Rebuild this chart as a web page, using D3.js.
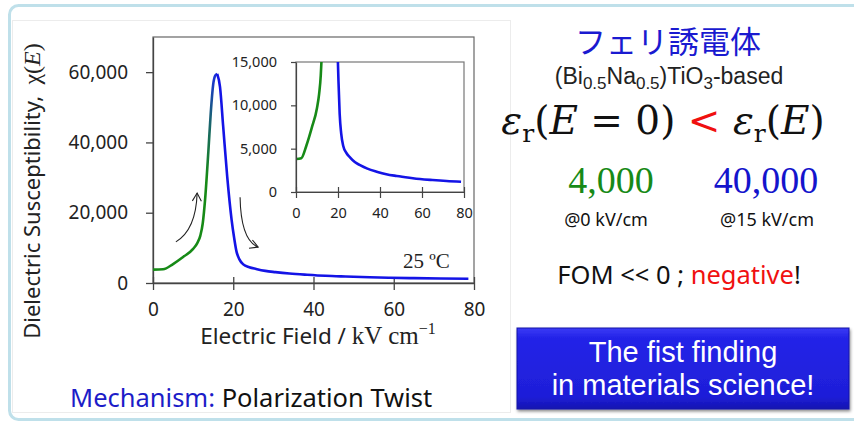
<!DOCTYPE html>
<html>
<head>
<meta charset="utf-8">
<script src="https://cdn.jsdelivr.net/npm/d3@7"></script>
<style>
  body { margin: 0; background: #fff; }
  svg { display: block; }
</style>
</head>
<body>
<script>
// rising branch, 0 kV/cm up to the peak (green)
const riseE   = [0, 2.5, 5, 7.5, 10, 11, 11.8, 12.4, 13, 13.8, 14.4, 15, 15.5, 16];
const riseChi = [3800, 3900, 5400, 7400, 9700, 11300, 13500, 17000, 24000, 37500, 48500, 56500, 59000, 59500];
// falling branch, peak up to 80 kV/cm (blue)
const fallE   = [16, 16.7, 17.5, 18.5, 19.6, 20.2, 20.8, 21.5, 22.5, 24, 25.7, 28, 30.5, 34, 38.4, 43, 48, 54, 59, 65, 71.7, 78.6];
const fallChi = [59500, 55800, 44400, 30200, 17900, 13000, 9000, 6800, 5300, 4500, 4000, 3450, 3100, 2700, 2350, 2050, 1850, 1650, 1500, 1380, 1270, 1190];

const xTicks = [0, 20, 40, 60, 80];
const yTicks = [0, 20000, 40000, 60000];
const insetYTicks = [0, 5000, 10000, 15000];

// the two hand drawn arrows, in data units: start, control, end
const arrowUp   = [[5.7, 11700], [10.7, 15100], [11, 25600]];
const arrowDown = [[21.7, 24400], [21.9, 12200], [26.2, 10200]];

const green = "#178a17", blue = "#1414e6", red = "#f01010";
const sans = "'Noto Sans', sans-serif";

const rise = riseE.map((e, i) => [e, riseChi[i]]);
const fall = fallE.map((e, i) => [e, fallChi[i]]);

const svg = d3.select("body").append("svg")
  .attr("width", 854)
  .attr("height", 421);

const defs = svg.append("defs");

// slide frame
svg.append("rect")
  .attr("x", 9.5).attr("y", 5.5)
  .attr("width", 860).attr("height", 414)
  .attr("rx", 9)
  .attr("fill", "#fff")
  .attr("stroke", "#bfe0ea")
  .attr("stroke-width", 3);
svg.append("rect")
  .attr("x", 12.5).attr("y", 20.5)
  .attr("width", 498).attr("height", 392)
  .attr("fill", "#fff")
  .attr("stroke", "#ececec");

// ---------- main chart ----------
const x = d3.scaleLinear().domain([0, 80]).range([153, 474]);
const y = d3.scaleLinear().domain([0, 70000]).range([283, 37]);

svg.append("rect")
  .attr("x", x(0)).attr("y", y(70000))
  .attr("width", x(80) - x(0)).attr("height", y(0) - y(70000))
  .attr("fill", "none")
  .attr("stroke", "#666")
  .attr("stroke-width", 1.2);

const gy = svg.append("g")
  .attr("transform", `translate(${x(0)},0)`)
  .call(d3.axisLeft(y).tickValues(yTicks).tickFormat(d3.format(","))
    .tickSizeInner(7).tickSizeOuter(0).tickPadding(18));
const gx = svg.append("g")
  .attr("transform", `translate(0,${y(0)})`)
  .call(d3.axisBottom(x).tickValues(xTicks)
    .tickSizeInner(7).tickSizeOuter(0).tickPadding(13));
gx.selectAll(".tick line").attr("y1", -6);
[gx, gy].forEach(g => {
  g.attr("font-family", sans).attr("font-size", 19);
  g.selectAll("text").attr("fill", "#222");
  g.selectAll("line, path").attr("stroke", "#444").attr("stroke-width", 1.3);
});

// green to blue fade on the way up to the peak
const grad = defs.append("linearGradient")
  .attr("id", "riseGrad")
  .attr("gradientUnits", "userSpaceOnUse")
  .attr("x1", 0).attr("x2", 0)
  .attr("y1", y(30000)).attr("y2", y(59500));
grad.append("stop").attr("offset", "0%").attr("stop-color", green);
grad.append("stop").attr("offset", "60%").attr("stop-color", "#1a5f7a");
grad.append("stop").attr("offset", "100%").attr("stop-color", "#1a30d8");

const line = d3.line().x(d => x(d[0])).y(d => y(d[1])).curve(d3.curveMonotoneX);

svg.append("path").datum(rise)
  .attr("d", line)
  .attr("fill", "none")
  .attr("stroke", "url(#riseGrad)")
  .attr("stroke-width", 2.6)
  .attr("stroke-linejoin", "round");
svg.append("path").datum(fall)
  .attr("d", line)
  .attr("fill", "none")
  .attr("stroke", blue)
  .attr("stroke-width", 2.6)
  .attr("stroke-linejoin", "round");

// arrows
defs.append("marker")
  .attr("id", "head")
  .attr("markerUnits", "userSpaceOnUse")
  .attr("markerWidth", 12).attr("markerHeight", 12)
  .attr("refX", 9).attr("refY", 6)
  .attr("orient", "auto")
  .append("path")
  .attr("d", "M1,1.5L9,6L1,10.5")
  .attr("fill", "none")
  .attr("stroke", "#222")
  .attr("stroke-width", 1.1);

[arrowUp, arrowDown].forEach(a => {
  const p = d3.path();
  p.moveTo(x(a[0][0]), y(a[0][1]));
  p.quadraticCurveTo(x(a[1][0]), y(a[1][1]), x(a[2][0]), y(a[2][1]));
  svg.append("path")
    .attr("d", p.toString())
    .attr("fill", "none")
    .attr("stroke", "#222")
    .attr("stroke-width", 1.1)
    .attr("marker-end", "url(#head)");
});

svg.append("text")
  .attr("x", x(62.3)).attr("y", y(4300))
  .attr("font-family", "'Liberation Serif', serif")
  .attr("font-size", 21)
  .attr("fill", "#222")
  .text("25 ºC");

// axis titles
const xt = svg.append("text")
  .attr("x", 318).attr("y", 344)
  .attr("text-anchor", "middle")
  .attr("fill", "#222");
xt.append("tspan").attr("font-family", sans).attr("font-size", 22.5).text("Electric Field / ");
xt.append("tspan").attr("font-family", "'Liberation Serif', serif").attr("font-size", 25).text("kV cm");
xt.append("tspan").attr("font-family", "'Liberation Serif', serif").attr("font-size", 16)
  .attr("dy", -10).text("−1");

const yt = svg.append("text")
  .attr("transform", "translate(40,191) rotate(-90)")
  .attr("text-anchor", "middle")
  .attr("fill", "#222");
yt.append("tspan").attr("font-family", sans).attr("font-size", 22).text("Dielectric Susceptibility,\u00a0\u00a0");
yt.append("tspan").attr("font-family", "'Liberation Serif', serif").attr("font-size", 24).text("χ(");
yt.append("tspan").attr("font-family", "'Liberation Serif', serif").attr("font-size", 24)
  .attr("font-style", "italic").text("E");
yt.append("tspan").attr("font-family", "'Liberation Serif', serif").attr("font-size", 24).text(")");

// ---------- inset ----------
const xi = d3.scaleLinear().domain([0, 80]).range([296, 464]);
const yi = d3.scaleLinear().domain([0, 15000]).range([192, 62]);

svg.append("rect")
  .attr("x", xi(0)).attr("y", yi(15000))
  .attr("width", xi(80) - xi(0)).attr("height", yi(0) - yi(15000))
  .attr("fill", "#fff")
  .attr("stroke", "#777")
  .attr("stroke-width", 1.2);

defs.append("clipPath").attr("id", "insetClip")
  .append("rect")
  .attr("x", xi(0)).attr("y", yi(15000))
  .attr("width", xi(80) - xi(0)).attr("height", yi(0) - yi(15000));

const lineI = d3.line().x(d => xi(d[0])).y(d => yi(d[1])).curve(d3.curveMonotoneX);
const ins = svg.append("g").attr("clip-path", "url(#insetClip)");
ins.append("path").datum(rise)
  .attr("d", lineI)
  .attr("fill", "none")
  .attr("stroke", green)
  .attr("stroke-width", 2.6);
ins.append("path").datum(fall)
  .attr("d", lineI)
  .attr("fill", "none")
  .attr("stroke", blue)
  .attr("stroke-width", 2.6);

const giy = svg.append("g")
  .attr("transform", `translate(${xi(0)},0)`)
  .call(d3.axisLeft(yi).tickValues(insetYTicks).tickFormat(d3.format(","))
    .tickSizeInner(5).tickSizeOuter(0).tickPadding(14));
const gix = svg.append("g")
  .attr("transform", `translate(0,${yi(0)})`)
  .call(d3.axisBottom(xi).tickValues(xTicks)
    .tickSizeInner(6).tickSizeOuter(0).tickPadding(10));
gix.selectAll(".tick line").attr("y1", -5);
[gix, giy].forEach(g => {
  g.attr("font-family", sans).attr("font-size", 14.5);
  g.selectAll("text").attr("fill", "#222");
  g.selectAll("line, path").attr("stroke", "#444").attr("stroke-width", 1.2);
});

svg.append("text")
  .attr("x", 70).attr("y", 407)
  .attr("font-family", sans)
  .attr("font-size", 25.5)
  .call(t => {
    t.append("tspan").attr("fill", "#1c1cc8").text("Mechanism: ");
    t.append("tspan").attr("fill", "#111").text("Polarization Twist");
  });

// ---------- right side notes ----------
svg.append("text")
  .attr("x", 668).attr("y", 53)
  .attr("text-anchor", "middle")
  .attr("font-family", "'Noto Sans CJK JP', sans-serif")
  .attr("font-size", 31)
  .attr("fill", "#1a1ad0")
  .text("フェリ誘電体");

const formula = svg.append("text")
  .attr("x", 669).attr("y", 84)
  .attr("text-anchor", "middle")
  .attr("font-family", "'Liberation Sans', sans-serif")
  .attr("font-size", 23)
  .attr("fill", "#222");
[["(Bi", 0], ["0.5", 1], ["Na", 0], ["0.5", 1], [")TiO", 0], ["3", 1], ["-based", 0]].forEach((s, i, arr) => {
  const prevSub = i > 0 && arr[i - 1][1];
  formula.append("tspan")
    .attr("font-size", s[1] ? 17 : 23)
    .attr("dy", s[1] ? 5 : (prevSub ? -5 : 0))
    .text(s[0]);
});

const eq = svg.append("text")
  .attr("x", 663).attr("y", 134)
  .attr("text-anchor", "middle")
  .attr("font-family", "'DejaVu Serif', serif")
  .attr("font-size", 39)
  .attr("fill", "#111");
const eqParts = [
  ["ε", "italic", 0, null], ["r", "normal", 8, null], ["(", "normal", -8, null], ["E", "italic", 0, null],
  [" = 0) ", "normal", 0, null], ["<", "normal", 0, red], [" ε", "italic", 0, null],
  ["r", "normal", 8, null], ["(", "normal", -8, null], ["E", "italic", 0, null], [")", "normal", 0, null]
];
eqParts.forEach(p => {
  const ts = eq.append("tspan")
    .attr("font-style", p[1])
    .attr("dy", p[2])
    .text(p[0]);
  if (p[0] === "r") ts.attr("font-size", 25);
  if (p[3]) ts.attr("fill", p[3]);
});

svg.append("text")
  .attr("x", 611).attr("y", 193)
  .attr("text-anchor", "middle")
  .attr("font-family", "'Liberation Serif', serif")
  .attr("font-size", 38)
  .attr("fill", green)
  .text("4,000");
svg.append("text")
  .attr("x", 766).attr("y", 193)
  .attr("text-anchor", "middle")
  .attr("font-family", "'Liberation Serif', serif")
  .attr("font-size", 38)
  .attr("fill", "#1414cc")
  .text("40,000");
svg.append("text")
  .attr("x", 606).attr("y", 226)
  .attr("text-anchor", "middle")
  .attr("font-family", sans)
  .attr("font-size", 18)
  .attr("fill", "#111")
  .text("@0 kV/cm");
svg.append("text")
  .attr("x", 767).attr("y", 226)
  .attr("text-anchor", "middle")
  .attr("font-family", sans)
  .attr("font-size", 18)
  .attr("fill", "#111")
  .text("@15 kV/cm");

svg.append("text")
  .attr("x", 679).attr("y", 284)
  .attr("text-anchor", "middle")
  .attr("font-family", sans)
  .attr("font-size", 25.5)
  .attr("fill", "#111")
  .call(t => {
    t.append("tspan").text("FOM << 0 ; ");
    t.append("tspan").attr("fill", red).text("negative");
    t.append("tspan").text("!");
  });

// blue banner
const bg = defs.append("linearGradient")
  .attr("id", "boxGrad")
  .attr("x1", 0).attr("x2", 0).attr("y1", 0).attr("y2", 1);
bg.append("stop").attr("offset", "0%").attr("stop-color", "#3a3af6");
bg.append("stop").attr("offset", "12%").attr("stop-color", "#2424e8");
bg.append("stop").attr("offset", "85%").attr("stop-color", "#1e1ed8");
bg.append("stop").attr("offset", "100%").attr("stop-color", "#1414b0");

const sh = defs.append("filter").attr("id", "shadow")
  .attr("x", "-5%").attr("y", "-10%").attr("width", "110%").attr("height", "130%");
sh.append("feDropShadow")
  .attr("dx", 1).attr("dy", 2).attr("stdDeviation", 1.5)
  .attr("flood-color", "#000").attr("flood-opacity", 0.45);

svg.append("rect")
  .attr("x", 517).attr("y", 328)
  .attr("width", 332).attr("height", 81)
  .attr("fill", "url(#boxGrad)")
  .attr("stroke", "#1212a8")
  .attr("stroke-width", 1)
  .attr("filter", "url(#shadow)");

svg.append("text")
  .attr("x", 683).attr("y", 362)
  .attr("text-anchor", "middle")
  .attr("font-family", "'Liberation Sans', sans-serif")
  .attr("font-size", 29)
  .attr("fill", "#fff")
  .text("The fist finding");
svg.append("text")
  .attr("x", 683).attr("y", 395)
  .attr("text-anchor", "middle")
  .attr("font-family", "'Liberation Sans', sans-serif")
  .attr("font-size", 29)
  .attr("fill", "#fff")
  .text("in materials science!");
</script>
</body>
</html>
